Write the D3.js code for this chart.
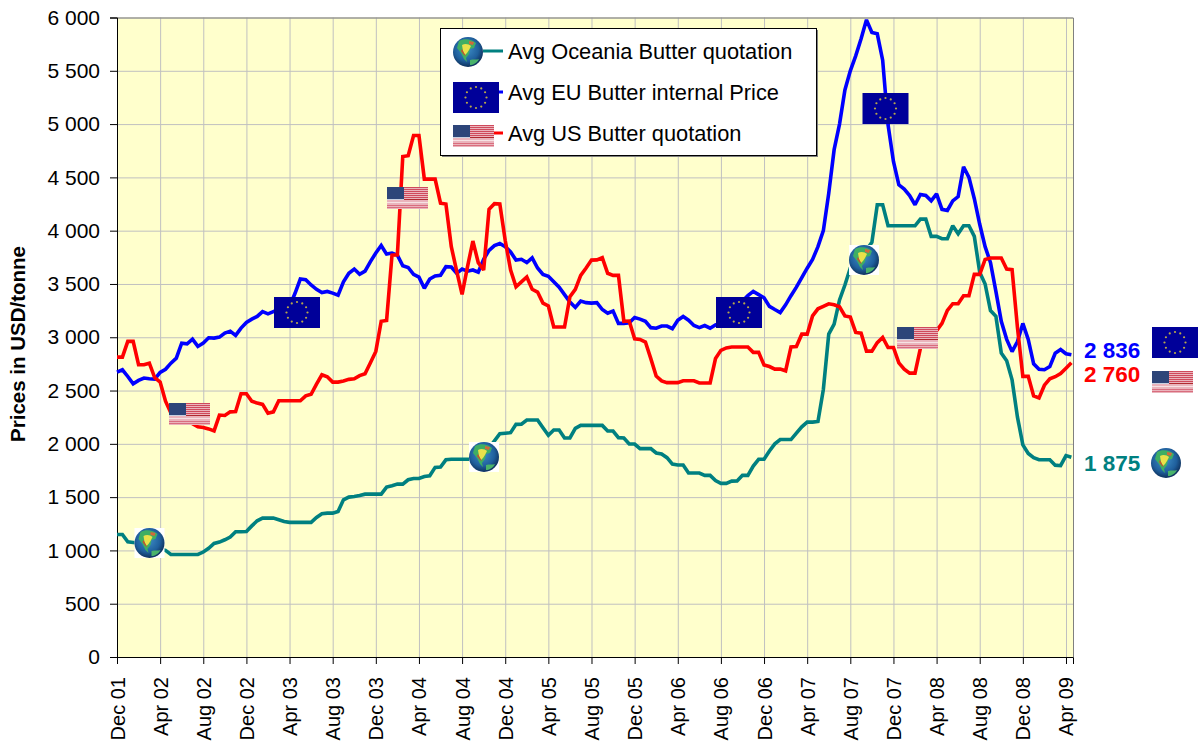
<!DOCTYPE html>
<html><head><meta charset="utf-8">
<script src="https://cdn.jsdelivr.net/npm/d3@7"></script>
<style>html,body{margin:0;background:#fff}svg{display:block}text{font-family:"Liberation Sans",Arial,sans-serif}</style>
</head><body><svg id="c" width="1202" height="746"></svg>
<script>
const tickLabels=["Dec 01","Apr 02","Aug 02","Dec 02","Apr 03","Aug 03","Dec 03","Apr 04","Aug 04","Dec 04","Apr 05","Aug 05","Dec 05","Apr 06","Aug 06","Dec 06","Apr 07","Aug 07","Dec 07","Apr 08","Aug 08","Dec 08","Apr 09"];
const yTicks=[0,500,1000,1500,2000,2500,3000,3500,4000,4500,5000,5500,6000];
const seriesNames=["Avg Oceania Butter quotation","Avg EU Butter internal Price","Avg US Butter quotation"];
const oceania=[1150,1150,1080,1075,1070,1050,1035,1020,1010,1000,
962,962,962,962,962,962,985,1020,1065,1078,
1100,1125,1175,1175,1178,1230,1278,1303,1303,1303,
1288,1272,1263,1263,1263,1263,1263,1309,1344,1350,
1350,1366,1475,1500,1506,1516,1528,1528,1528,1528,
1594,1607,1622,1622,1663,1675,1675,1694,1700,1779,
1782,1850,1855,1855,1855,1855,1855,1855,1900,1960,
2027,2095,2100,2105,2183,2185,2223,2223,2223,2150,
2080,2130,2130,2055,2055,2145,2173,2173,2173,2173,
2173,2120,2120,2058,2055,1998,1998,1955,1955,1955,
1914,1905,1870,1810,1801,1801,1726,1726,1726,1704,
1704,1655,1629,1629,1650,1651,1704,1704,1792,1855,
1855,1933,2000,2040,2040,2040,2100,2160,2204,2204,
2210,2510,3030,3123,3350,3490,3650,3690,3750,3820,
3890,4243,4243,4046,4046,4046,4046,4046,4046,4108,
4108,3946,3946,3924,3924,4046,3971,4046,4046,3946,
3610,3500,3250,3196,2852,2780,2600,2250,1990,1910,
1870,1851,1851,1851,1800,1795,1890,1875];
const eu=[2673,2695,2632,2563,2595,2617,2610,2607,2670,2700,
2757,2804,2945,2939,2982,2914,2945,2995,2992,3001,
3039,3057,3017,3086,3139,3170,3195,3240,3220,3240,
3260,3270,3290,3410,3546,3540,3490,3450,3420,3430,
3414,3395,3520,3600,3640,3590,3620,3710,3790,3861,
3780,3790,3770,3670,3655,3590,3564,3460,3546,3575,
3581,3662,3659,3600,3640,3620,3631,3610,3731,3815,
3860,3880,3850,3800,3724,3731,3700,3745,3650,3590,
3572,3520,3470,3400,3330,3280,3340,3325,3320,3325,
3260,3225,3246,3130,3130,3135,3185,3170,3150,3090,
3085,3105,3105,3080,3160,3195,3160,3110,3090,3110,
3085,3115,3130,3160,3210,3260,3340,3390,3430,3400,
3370,3290,3260,3232,3304,3390,3470,3560,3648,3730,
3850,4000,4350,4760,5000,5320,5500,5640,5800,5978,
5860,5847,5600,4993,4650,4430,4390,4330,4243,4340,
4330,4280,4346,4200,4190,4280,4320,4600,4500,4300,
4060,3850,3700,3430,3150,2980,2865,2960,3130,2980,
2750,2700,2695,2725,2850,2885,2845,2836];
const us=[2814,2814,2961,2961,2742,2742,2757,2620,2579,2400,
2290,2260,2250,2220,2190,2160,2154,2140,2122,2270,
2266,2300,2304,2470,2470,2400,2382,2370,2288,2300,
2404,2404,2404,2404,2404,2450,2465,2560,2648,2630,
2579,2579,2590,2605,2610,2640,2657,2760,2867,3150,
3158,3770,3774,4696,4703,4893,4893,4484,4484,4484,
4258,4250,3850,3620,3402,3660,3903,3700,3631,4200,
4253,4250,3907,3630,3474,3520,3565,3450,3424,3320,
3293,3096,3096,3096,3380,3450,3581,3650,3724,3726,
3746,3600,3581,3581,3150,3152,2986,2980,2955,2800,
2636,2590,2574,2574,2574,2592,2592,2592,2571,2571,
2571,2800,2877,2900,2908,2908,2908,2908,2858,2858,
2739,2725,2701,2701,2685,2910,2913,3029,3029,3200,
3267,3290,3314,3305,3286,3200,3189,3045,3039,2870,
2870,2950,2998,2904,2904,2760,2701,2663,2663,2895,
3000,3040,3060,3130,3252,3315,3315,3390,3390,3590,
3590,3730,3743,3743,3743,3640,3634,3090,2633,2633,
2450,2430,2550,2610,2630,2660,2710,2760];
const lastLabels=["1 875","2 836","2 760"];

const TEAL="#008080",BLUE="#0000ff",RED="#ff0000";
const L=117,R=1073,T=17.5,B=657;
const svg=d3.select("#c");
const x=d3.scaleLinear().domain([0,177.3]).range([L,R]);
const y=d3.scaleLinear().domain([0,6000]).range([B,T]);
const tickIdx=tickLabels.map((_,i)=>i*8);

// symbols
const defs=svg.append("defs");
const rg=defs.append("radialGradient").attr("id","sea").attr("cx","45%").attr("cy","40%").attr("r","62%");
rg.append("stop").attr("offset","0%").attr("stop-color","#3f8fc8");
rg.append("stop").attr("offset","65%").attr("stop-color","#1f5f9c");
rg.append("stop").attr("offset","100%").attr("stop-color","#0d2c55");
const g0=defs.append("g").attr("id","globe");
g0.append("rect").attr("x",-15).attr("y",-15).attr("width",30).attr("height",30).attr("fill","#fff");
g0.append("circle").attr("r",15).attr("fill","url(#sea)");
g0.append("path").attr("d","M-9,-11 C-4,-14 4,-13 8,-9 L6,-4 L2,-3 L1,2 L-2,6 L-1,10 L-4,7 L-7,1 L-11,-4 Z").attr("fill","#3fae63");
g0.append("path").attr("d","M-6,-7 C-3,-9 1,-8 3,-6 L1,-2 L-1,1 L-3,3 L-5,-1 Z").attr("fill","#e9e14a");
g0.append("path").attr("d","M-6,-3 L-4,1 L-2,4 L-4,3 L-7,-1 Z").attr("fill","#c9502c");
g0.append("path").attr("d","M1,-11 L6,-10 L5,-7 L1,-8 Z").attr("fill","#d2693a");
g0.append("path").attr("d","M2,8 C5,7 9,8 11,7 C9,11 5,13 2,13 Z").attr("fill","#49b36a");
const e0=defs.append("g").attr("id","euflag");
e0.append("rect").attr("x",-23).attr("y",-15.5).attr("width",46).attr("height",31).attr("fill","#000099");
d3.range(12).forEach(k=>{const a=k*Math.PI/6;e0.append("circle").attr("cx",10.5*Math.sin(a)).attr("cy",-10.5*Math.cos(a)).attr("r",1.1).attr("fill","#b9a84a");});
const u0=defs.append("g").attr("id","usflag");
u0.append("rect").attr("x",-20.5).attr("y",-11).attr("width",41).attr("height",22).attr("fill","#eab4bc");
d3.range(7).forEach(k=>{u0.append("rect").attr("x",-3.5).attr("y",-11+k*2).attr("width",24).attr("height",1).attr("fill","#cf4a5c");});
u0.append("rect").attr("x",-20.5).attr("y",1).attr("width",41).attr("height",1).attr("fill","#b02a30");
u0.append("rect").attr("x",-20.5).attr("y",4).attr("width",41).attr("height",1).attr("fill","#f6e2e4");
u0.append("rect").attr("x",-20.5).attr("y",7).attr("width",41).attr("height",1).attr("fill","#d96d7e");
u0.append("rect").attr("x",-20.5).attr("y",9).attr("width",41).attr("height",1).attr("fill","#d96d7e");
u0.append("rect").attr("x",-20.5).attr("y",-11).attr("width",17).attr("height",12).attr("fill","#2d4579");
u0.append("rect").attr("x",-20.5).attr("y",1).attr("width",17).attr("height",1).attr("fill","#c8d0e0");

// plot area
svg.append("rect").attr("x",L).attr("y",T).attr("width",R-L).attr("height",B-T).attr("fill","#ffffcc");

// gridlines
const gy=svg.append("g").attr("transform",`translate(${L},0)`).call(d3.axisLeft(y).tickValues(yTicks).tickSize(-(R-L)).tickFormat(""));
gy.select(".domain").remove();gy.selectAll("line").attr("stroke","#c0c0c0").attr("stroke-width",1);
const gx=svg.append("g").attr("transform",`translate(0,${B})`).call(d3.axisBottom(x).tickValues(tickIdx).tickSize(-(B-T)).tickFormat(""));
gx.select(".domain").remove();gx.selectAll("line").attr("stroke","#c0c0c0").attr("stroke-width",1);

// frame top/right
svg.append("path").attr("d",`M${L},${T+0.5}H${R+0.5}V${B}`).attr("fill","none").attr("stroke","#808080").attr("stroke-width",1);

// axes
const ay=svg.append("g").attr("transform",`translate(${L},0)`)
 .call(d3.axisLeft(y).tickValues(yTicks).tickSize(7).tickPadding(10).tickFormat(d=>d3.format(",")(d).replace(",", " ")));
ay.selectAll("path,line").attr("stroke","#000").attr("stroke-width",1);
ay.selectAll("text").attr("font-size",21).attr("fill","#000").attr("font-family",'"Liberation Sans",Arial,sans-serif');
const ax=svg.append("g").attr("transform",`translate(0,${B})`)
 .call(d3.axisBottom(x).tickValues(tickIdx).tickSize(7).tickFormat((d,i)=>tickLabels[i]));
ax.selectAll("path,line").attr("stroke","#000").attr("stroke-width",1);
ax.selectAll("text").attr("font-size",20).attr("fill","#000").attr("font-family",'"Liberation Sans",Arial,sans-serif')
  .attr("text-anchor","end").attr("dy","0.35em").attr("transform","rotate(-90)").attr("x",-20).attr("y",0);

svg.append("text").attr("transform","translate(25,344) rotate(-90)").attr("text-anchor","middle")
 .attr("font-size",20.5).attr("font-weight","bold").text("Prices in USD/tonne");

// lines
const line=d3.line().x((d,i)=>x(i)).y(d=>y(d)).curve(d3.curveLinear);
[[oceania,TEAL],[eu,BLUE],[us,RED]].forEach(([s,c])=>{
 svg.append("path").datum(s).attr("d",line).attr("fill","none").attr("stroke",c).attr("stroke-width",3.6).attr("stroke-linejoin","miter").attr("stroke-miterlimit",2);
});

// legend
svg.append("rect").attr("x",442).attr("y",30).attr("width",376).attr("height",127).attr("fill","#808080");
svg.append("rect").attr("x",440.5).attr("y",28.5).attr("width",376).attr("height",127).attr("fill","#fff").attr("stroke","#000").attr("stroke-width",1);
const legendRows=[[51,TEAL,58.5],[92,BLUE,100],[133,RED,141]];
legendRows.forEach(([ly,c,tb],i)=>{
 svg.append("line").attr("x1",470).attr("x2",503).attr("y1",ly).attr("y2",ly).attr("stroke",c).attr("stroke-width",3);
 svg.append("text").attr("x",508).attr("y",tb).attr("font-size",21.8).attr("fill","#000").text(seriesNames[i]);
});

// icons
const icon=(id,cx,cy)=>svg.append("use").attr("href","#"+id).attr("transform",`translate(${cx},${cy})`);
[[149.5,543],[484,457],[864,260],[468,52],[1166,463]].forEach(p=>icon("globe",...p));
[[297,312.5],[739,312.5],[885.5,108.5],[1175,342.5],[476,97.5]].forEach(p=>icon("euflag",...p));
[[189.5,414],[407.5,198],[917.5,338],[1172.5,382],[473.5,136]].forEach(p=>icon("usflag",...p));

// end labels
[[470.5,TEAL,0],[357.5,BLUE,1],[382,RED,2]].forEach(([by,c,i])=>{
 svg.append("text").attr("x",1084).attr("y",by).attr("font-size",22.5).attr("font-weight","bold").attr("fill",c).text(lastLabels[i]);
});
</script></body></html>
